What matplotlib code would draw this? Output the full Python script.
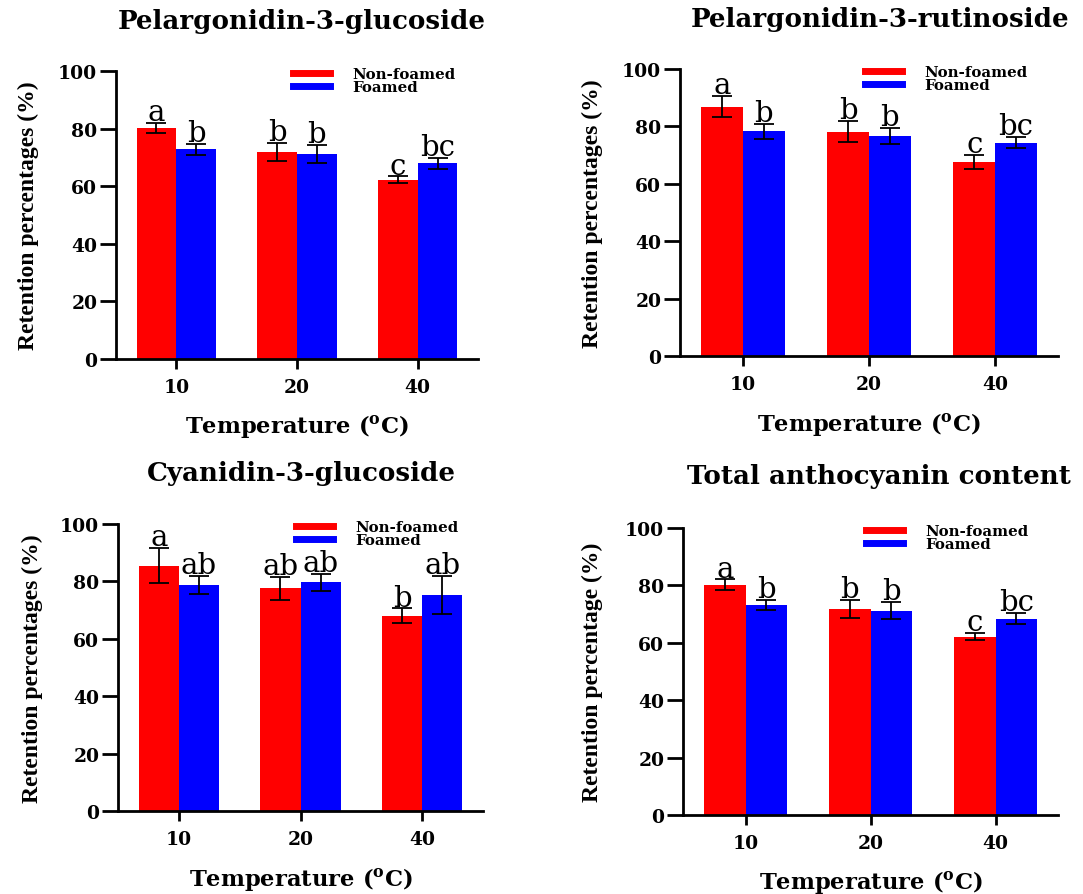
import matplotlib
matplotlib.use("Agg")
import matplotlib.pyplot as plt
from matplotlib.lines import Line2D
import numpy as np

plt.rcParams['font.family'] = ['DejaVu Serif']
plt.rcParams['mathtext.fontset'] = 'custom'
plt.rcParams['mathtext.rm'] = 'DejaVu Serif:bold'

temps = ['10', '20', '40']
series_names = ['Non-foamed', 'Foamed']

titles = ['Pelargonidin-3-glucoside', 'Pelargonidin-3-rutinoside',
          'Cyanidin-3-glucoside', 'Total anthocyanin content']
ylabels = ['Retention percentages (%)', 'Retention percentages (%)',
           'Retention percentages (%)', 'Retention percentage (%)']

p3g_nf = [80.1, 71.8, 62.3]
p3g_nf_err = [1.8, 3.2, 1.1]
p3g_f = [72.9, 71.1, 67.9]
p3g_f_err = [1.9, 3.1, 2.0]
p3g_letters_nf = ['a', 'b', 'c']
p3g_letters_f = ['b', 'b', 'bc']

p3r_nf = [86.9, 78.2, 67.6]
p3r_nf_err = [3.6, 3.8, 2.6]
p3r_f = [78.3, 76.6, 74.3]
p3r_f_err = [2.7, 2.8, 2.0]
p3r_letters_nf = ['a', 'b', 'c']
p3r_letters_f = ['b', 'b', 'bc']

c3g_nf = [85.5, 77.6, 68.0]
c3g_nf_err = [6.2, 4.0, 2.6]
c3g_f = [78.7, 79.7, 75.3]
c3g_f_err = [3.1, 3.0, 6.6]
c3g_letters_nf = ['a', 'ab', 'b']
c3g_letters_f = ['ab', 'ab', 'ab']

tac_nf = [80.2, 71.8, 62.1]
tac_nf_err = [1.9, 3.2, 1.2]
tac_f = [73.1, 71.2, 68.4]
tac_f_err = [1.7, 3.0, 2.0]
tac_letters_nf = ['a', 'b', 'c']
tac_letters_f = ['b', 'b', 'bc']

panels = [
    (p3g_nf, p3g_nf_err, p3g_f, p3g_f_err, p3g_letters_nf, p3g_letters_f),
    (p3r_nf, p3r_nf_err, p3r_f, p3r_f_err, p3r_letters_nf, p3r_letters_f),
    (c3g_nf, c3g_nf_err, c3g_f, c3g_f_err, c3g_letters_nf, c3g_letters_f),
    (tac_nf, tac_nf_err, tac_f, tac_f_err, tac_letters_nf, tac_letters_f),
]

W, H = 1083, 895
# axes boxes in pixels: left, top, right, bottom
boxes = [(116, 72, 478, 360), (680, 70, 1058, 357),
         (118, 525, 483, 812), (683, 529, 1058, 816)]
title_pos = [(302, 30), (880, 28), (301, 482), (879, 485)]
xlabel_y = [427, 425, 880, 883]
ylabel_x = [28, 592, 32, 592]

fig = plt.figure(figsize=(W / 100, H / 100), dpi=100)

red = '#FF0000'
blue = '#0000FF'
bw = 0.33

for i, (box, data) in enumerate(zip(boxes, panels)):
    l, t, r, b = box
    ax = fig.add_axes([l / W, (H - b) / H, (r - l) / W, (b - t) / H])
    nf, nfe, f, fe, lnf, lf = data
    x = np.arange(len(temps))
    ax.bar(x - bw / 2, nf, bw, color=red, yerr=nfe, capsize=7,
           error_kw=dict(elinewidth=1.3, capthick=1.3, ecolor='black'), zorder=2)
    ax.bar(x + bw / 2, f, bw, color=blue, yerr=fe, capsize=7,
           error_kw=dict(elinewidth=1.3, capthick=1.3, ecolor='black'), zorder=2)
    for xi, v, e, s in zip(x - bw / 2, nf, nfe, lnf):
        ax.text(xi, v + e + 1.0, s, ha='center', va='baseline', fontsize=21)
    for xi, v, e, s in zip(x + bw / 2, f, fe, lf):
        ax.text(xi, v + e + 1.0, s, ha='center', va='baseline', fontsize=21)

    ax.set_xlim(-0.5, 2.5)
    ax.set_ylim(0, 100)
    ax.set_xticks(x)
    ax.set_xticklabels(temps)
    ax.set_yticks([0, 20, 40, 60, 80, 100])
    for sp in ['top', 'right']:
        ax.spines[sp].set_visible(False)
    for sp in ['left', 'bottom']:
        ax.spines[sp].set_linewidth(2)
    ax.tick_params(axis='y', length=11.5, width=2, labelsize=13.5, pad=2)
    ax.tick_params(axis='x', length=7, width=2, labelsize=13.5, pad=7)
    for lab in ax.get_xticklabels() + ax.get_yticklabels():
        lab.set_fontweight('bold')

    ax.set_xlabel('Temperature ($\\mathrm{^{o}}$C)', fontsize=16.3,
                  fontweight='bold', va='center')
    ax.xaxis.set_label_coords(0.5, (b - xlabel_y[i]) / (b - t))
    ax.set_ylabel(ylabels[i], family='Liberation Serif', fontsize=17,
                  fontweight='bold', ha='center', va='center')
    ax.yaxis.set_label_coords((ylabel_x[i] - l) / (r - l), 0.5)

    tx, ty = title_pos[i]
    ax.set_title(titles[i], fontsize=18.8, fontweight='bold',
                 x=(tx - l) / (r - l), y=(b - ty) / (b - t), va='center')

    handles = [Line2D([0], [0], color=red, lw=5),
               Line2D([0], [0], color=blue, lw=5)]
    ax.legend(handles, series_names, loc='upper left',
              bbox_to_anchor=(0.489, 1.014), frameon=False,
              prop=dict(size=10.8, weight='bold'), handlelength=2.45,
              handletextpad=1.5, labelspacing=-0.06, borderpad=0,
              borderaxespad=0)

fig.savefig('out.png', dpi=100)
